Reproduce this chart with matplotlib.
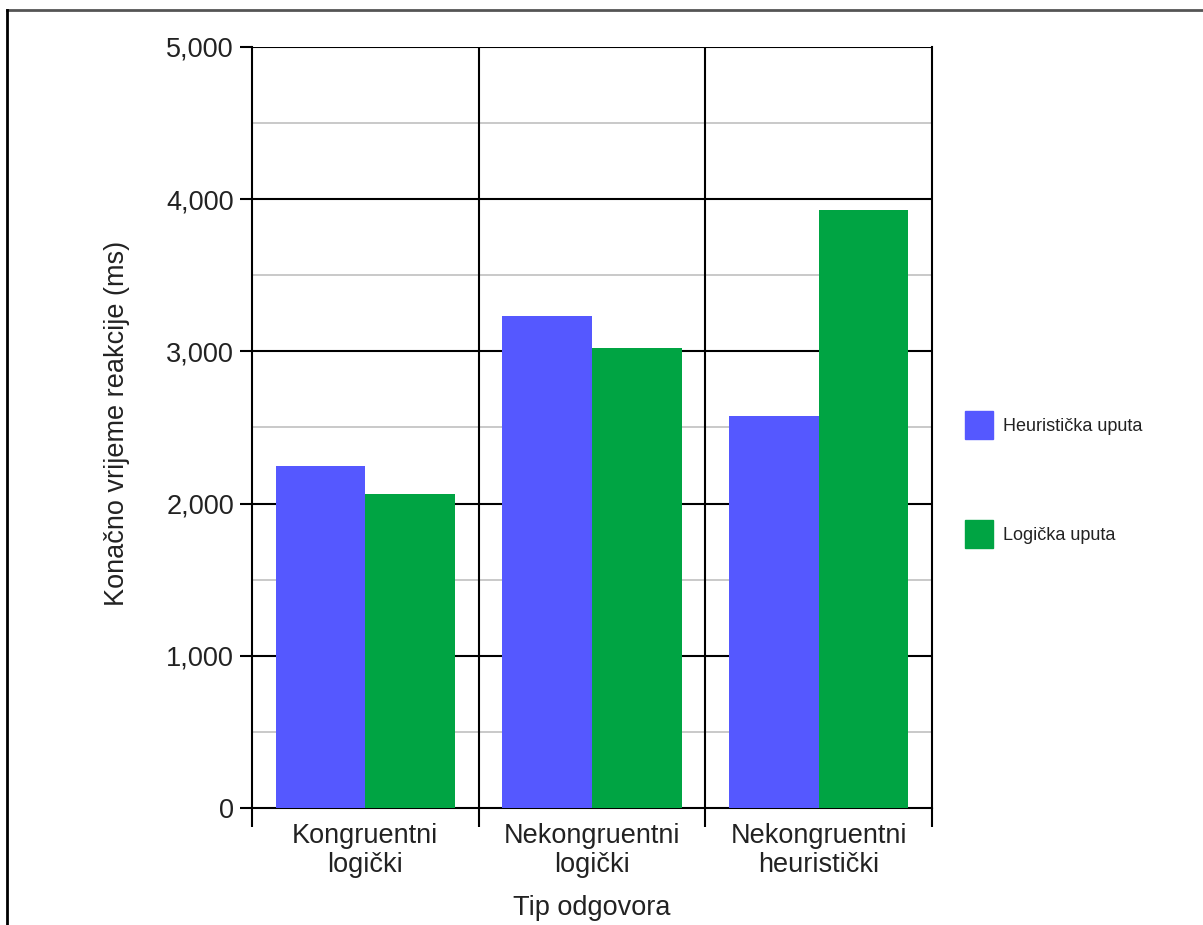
import matplotlib
matplotlib.use("Agg")
import matplotlib.pyplot as plt
from matplotlib.patches import Rectangle
import numpy as np

categories = ["Kongruentni\nlogički", "Nekongruentni\nlogički", "Nekongruentni\nheuristički"]
series_names = ["Heuristička uputa", "Logička uputa"]
heuristicka = [2247, 3233, 2576]
logicka = [2063, 3022, 3929]
colors = ["#5558FF", "#00A443"]

plt.rcParams['font.family'] = ['Liberation Sans', 'DejaVu Sans']

fig = plt.figure(figsize=(12.03, 9.25), dpi=100)
W, H = 1203, 925
ax = fig.add_axes([252 / W, (H - 808) / H, 680 / W, 761 / H])

x = np.arange(len(categories))
w = 0.395
ax.bar(x - w / 2, heuristicka, w, color=colors[0], zorder=3)
ax.bar(x + w / 2, logicka, w, color=colors[1], zorder=3)

ax.set_xlim(-0.5, len(categories) - 0.5)
ax.set_ylim(0, 5000)

# grid lines
for v in np.arange(500, 5000, 1000):
    ax.axhline(v, color="#c0c0c0", lw=1.2, zorder=1)
for v in np.arange(1000, 5001, 1000):
    ax.axhline(v, color="black", lw=1.5, zorder=2)
for b in np.arange(0.5, len(categories) - 0.5, 1):
    ax.axvline(b, color="black", lw=1.5, zorder=2)

for s in ["top", "right", "left", "bottom"]:
    ax.spines[s].set_linewidth(1.5)
    ax.spines[s].set_color("black")
ax.spines["top"].set_visible(False)

ax.set_yticks(np.arange(0, 5001, 1000))
ax.set_yticklabels([f"{v:,}" for v in range(0, 5001, 1000)], fontsize=19.5, color="#222222")
ax.tick_params(axis="y", length=9, width=1.5, pad=4)

ax.set_xticks(np.arange(-0.5, len(categories), 1))
ax.set_xticklabels([])
ax.tick_params(axis="x", which="major", length=14, width=1.5)
ax.set_xticks(x, minor=True)
ax.set_xticklabels(categories, minor=True, fontsize=19.5, color="#222222", linespacing=1.15)
ax.tick_params(axis="x", which="minor", length=0, pad=11)

ax.set_ylabel("Konačno vrijeme reakcije (ms)", fontsize=19.5, color="#222222")
ax.yaxis.set_label_coords((130 - 252) / 680, (808 - 423) / 761)
ax.set_xlabel("Tip odgovora", fontsize=19.5, color="#222222")
ax.xaxis.set_label_coords(0.5, (808 - 895) / 761)

# legend
for i, name in enumerate(series_names):
    y0 = 411 + i * 109
    fig.patches.append(Rectangle((965 / W, 1 - (y0 + 28) / H), 28 / W, 28 / H,
                                 transform=fig.transFigure, color=colors[i]))
    fig.text(1003 / W, 1 - (y0 + 16) / H, name, fontsize=13, va="center", color="#222222")

# outer frame (top and left only)
fig.add_artist(plt.Line2D([7 / W, 1], [1 - 10 / H, 1 - 10 / H], transform=fig.transFigure, color="#555555", lw=2))
fig.add_artist(plt.Line2D([7 / W, 7 / W], [0, 1 - 10 / H], transform=fig.transFigure, color="black", lw=2))

fig.savefig("out.png", dpi=100)
